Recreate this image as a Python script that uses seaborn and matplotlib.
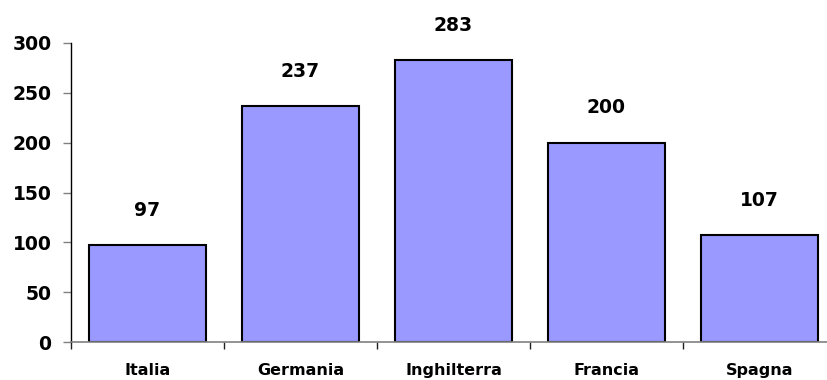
import matplotlib
matplotlib.use("Agg")
import matplotlib.pyplot as plt
import numpy as np
import pandas as pd
import seaborn as sns

COUNTRIES = ["Italia", "Germania", "Inghilterra", "Francia", "Spagna"]
VALUES = [97, 237, 283, 200, 107]
Y_TICKS = [0, 50, 100, 150, 200, 250, 300]


def main():
    sns.set_theme(style="white")
    plt.rcParams["font.family"] = ["DejaVu Sans"]
    plt.rcParams["text.color"] = "black"
    plt.rcParams["xtick.labelcolor"] = "black"
    plt.rcParams["ytick.labelcolor"] = "black"

    df = pd.DataFrame({"paese": COUNTRIES, "valore": VALUES})

    fig = plt.figure(figsize=(8.27, 3.8), dpi=100)
    ax = fig.add_axes([71 / 827, 38 / 380, 765 / 827, 299 / 380])

    sns.barplot(data=df, x="paese", y="valore", color="#9999FF", saturation=1,
                width=0.76, edgecolor="black", linewidth=1.5, ax=ax)

    for i, v in enumerate(VALUES):
        ax.annotate(str(v), (i, v), xytext=(0, 25), textcoords="offset points",
                    ha="center", va="center", fontsize=13.5, fontweight="bold",
                    color="black", annotation_clip=False)

    ax.set_xlim(-0.5, len(COUNTRIES) - 0.5)
    ax.set_ylim(0, 300)
    ax.set_yticks(Y_TICKS)
    ax.set_xlabel("")
    ax.set_ylabel("")

    ax.set_xticks(np.arange(len(COUNTRIES)))
    ax.set_xticklabels(COUNTRIES, fontsize=11.5, fontweight="bold")
    ax.set_xticks(np.arange(len(COUNTRIES) + 1) - 0.5, minor=True)
    ax.tick_params(axis="x", which="major", length=0, pad=15)
    ax.tick_params(axis="x", which="minor", length=5, direction="out",
                   color="#202020", width=1, bottom=True)
    ax.tick_params(axis="y", length=6, direction="out", color="#808080",
                   width=1, left=True, pad=8, labelsize=13.5)
    for lab in ax.get_yticklabels():
        lab.set_fontweight("bold")

    ax.spines["top"].set_visible(False)
    ax.spines["right"].set_visible(False)
    ax.spines["left"].set_color("black")
    ax.spines["bottom"].set_color("#808080")
    ax.spines["left"].set_linewidth(1)
    ax.spines["bottom"].set_linewidth(1.2)

    fig.savefig("out.png", dpi=100)
    plt.close(fig)


if __name__ == "__main__":
    main()
